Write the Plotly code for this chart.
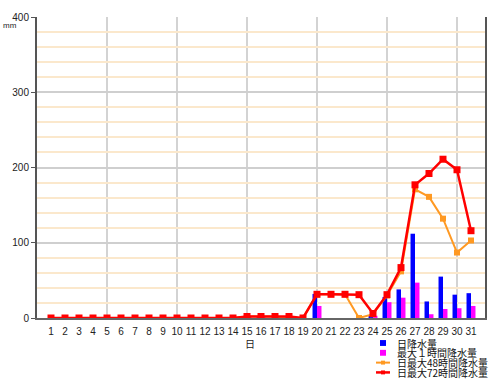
import plotly.graph_objects as go

days = list(range(1, 32))
day_labels = [str(d) for d in days]

daily = [0]*14 + [1, 1, 0, 0, 0, 32, 0, 0, 0, 4, 28, 38, 112, 22, 55, 31, 33]
hourly = [0]*14 + [1, 1, 0, 0, 0, 16, 0, 0, 0, 3, 21, 27, 47, 5, 12, 13, 16]
h48 = [0]*14 + [2, 2, 2, 0, 0, 31.5, 31.5, 31.5, 0, 5, 30, 62, 171, 161, 132, 87, 103]
h72 = [0]*14 + [2, 2, 2, 2, 0, 31.5, 31.5, 31.5, 31, 6, 31, 67, 177, 192, 211, 197, 116]

legend_names = ["日降水量", "最大１時間降水量", "日最大48時間降水量", "日最大72時間降水量"]
grid_days = [5, 10, 15, 20, 25, 30]

W, H = 500, 388
L, R, T, B = 37, 485, 11, 318

def px(x):
    return (x - L) / (R - L)

def py(y):
    return (B - y) / (B - T)

BLUE, MAG, ORANGE, RED = "#0000ff", "#ff00ff", "#ff9922", "#ff0000"
FONT = "Liberation Sans, Arial, Noto Sans CJK JP"

fig = go.Figure()
fig.add_trace(go.Bar(x=days, y=daily, marker_color=BLUE, marker_line_width=0, name=legend_names[0]))
fig.add_trace(go.Bar(x=days, y=hourly, marker_color=MAG, marker_line_width=0, name=legend_names[1]))
fig.add_trace(go.Scatter(x=days, y=h48, mode="lines+markers", name=legend_names[2],
                         line=dict(color=ORANGE, width=2),
                         marker=dict(symbol="square", size=6, color=ORANGE)))
fig.add_trace(go.Scatter(x=days, y=h72, mode="lines+markers", name=legend_names[3],
                         line=dict(color=RED, width=2.5),
                         marker=dict(symbol="square", size=7, color=RED)))

shapes = []
for g in grid_days:
    shapes.append(dict(type="line", xref="x", yref="paper", x0=g, x1=g, y0=0, y1=1,
                       line=dict(color="#c4c4c4", width=1.5), layer="below"))

# manual legend
leg_y = [343.5, 353.5, 363.5, 373.5]
leg_x = 383
shapes.append(dict(type="rect", xref="paper", yref="paper",
                   x0=px(leg_x - 3), x1=px(leg_x + 3), y0=py(leg_y[0] + 3), y1=py(leg_y[0] - 3),
                   fillcolor=BLUE, line_width=0))
shapes.append(dict(type="rect", xref="paper", yref="paper",
                   x0=px(leg_x - 3), x1=px(leg_x + 3), y0=py(leg_y[1] + 3), y1=py(leg_y[1] - 3),
                   fillcolor=MAG, line_width=0))
for i, c, w in [(2, ORANGE, 2), (3, RED, 2.5)]:
    shapes.append(dict(type="line", xref="paper", yref="paper",
                       x0=px(leg_x - 7), x1=px(leg_x + 7), y0=py(leg_y[i]), y1=py(leg_y[i]),
                       line=dict(color=c, width=w)))
    shapes.append(dict(type="rect", xref="paper", yref="paper",
                       x0=px(leg_x - 2), x1=px(leg_x + 2), y0=py(leg_y[i] + 2), y1=py(leg_y[i] - 2),
                       fillcolor=c, line_width=0))

annotations = []
for i, name in enumerate(legend_names):
    annotations.append(dict(text=name, xref="paper", yref="paper", x=px(395), y=py(leg_y[i]),
                            xanchor="left", yanchor="middle", showarrow=False,
                            font=dict(size=10, color="#111", family="Noto Sans CJK JP")))
annotations.append(dict(text="mm", xref="paper", yref="paper", x=px(10), y=py(20),
                        xanchor="center", yanchor="middle", showarrow=False,
                        font=dict(size=8, color="#222", family=FONT)))
annotations.append(dict(text="日", xref="paper", yref="paper", x=px(250), y=py(344),
                        xanchor="center", yanchor="middle", showarrow=False,
                        font=dict(size=10, color="#222", family="Noto Sans CJK JP")))

fig.update_layout(
    width=W, height=H,
    margin=dict(l=L, r=W - R, t=T, b=H - B, pad=0),
    paper_bgcolor="white", plot_bgcolor="white",
    barmode="group", bargap=0.36, bargroupgap=0,
    showlegend=False,
    font=dict(family=FONT, size=10, color="#222"),
    shapes=shapes, annotations=annotations,
    xaxis=dict(range=[0, 32], tickvals=days, ticktext=day_labels, showgrid=False,
               zeroline=False, showline=True, linecolor="#666", linewidth=1.5,
               ticks="outside", ticklen=3, tickcolor="rgba(0,0,0,0)", tickangle=0,
               tickfont=dict(size=10)),
    yaxis=dict(range=[0, 400], dtick=100, showgrid=True, gridcolor="#cfcfcf", gridwidth=1.5,
               zeroline=False, showline=True, linecolor="#555", linewidth=2, mirror=True,
               ticks="outside", ticklen=4, tickcolor="#555",
               minor=dict(dtick=20, showgrid=True, gridcolor="#fbe8cc", gridwidth=1.5, ticks=""),
               tickfont=dict(size=10)),
)

fig.write_html("out.html")
